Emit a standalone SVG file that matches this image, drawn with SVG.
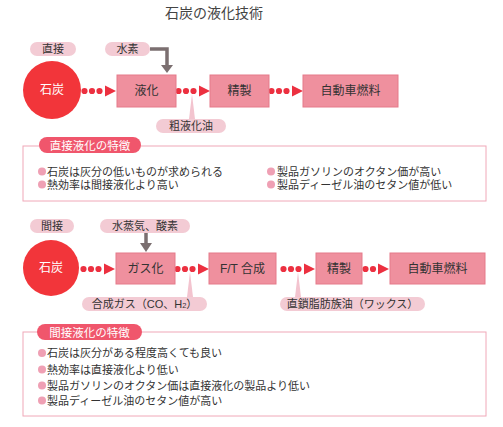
<svg xmlns="http://www.w3.org/2000/svg" xmlns:xlink="http://www.w3.org/1999/xlink" width="503" height="427" viewBox="0 0 503 427">
<style>
text{font-family:"Liberation Sans","Noto Sans CJK JP",sans-serif;fill:#333}
.title{font-size:14px;fill:#444}
.pill{fill:#f3cbd4}
.pt{font-size:11px;text-anchor:middle}
.box{fill:#ef909e;stroke:#e57a8a;stroke-width:1}
.bt{font-size:12px;text-anchor:middle}
.coal{fill:#f2353a}
.ct{font-size:12px;fill:#fff;text-anchor:middle}
.dot{fill:#ec3040}
.ptr{fill:#f3c4cf}
.gray{fill:none;stroke:#7b6f70;stroke-width:3.5}
.grayh{fill:#7b6f70}
.frame{fill:#fff;stroke:#f0a8b8;stroke-width:1}
.hp{fill:#f0566c}
.ht{font-size:11.5px;fill:#fff;text-anchor:middle}
.bul{fill:#efa0b4}
.lt{font-size:11px}
</style>
<defs>
<g id="d3"><circle class="dot" cx="2.5" cy="0" r="3.1"/><circle class="dot" cx="10" cy="0" r="3.1"/><circle class="dot" cx="17.5" cy="0" r="3.1"/><polygon class="dot" points="23,-5.5 34,0 23,5.5"/></g>
<g id="d2"><circle class="dot" cx="2.5" cy="0" r="3.1"/><circle class="dot" cx="10" cy="0" r="3.1"/><polygon class="dot" points="15,-5.5 26,0 15,5.5"/></g>
</defs>
<rect width="503" height="427" fill="#fff"/>
<text class="title" x="214" y="18" text-anchor="middle">石炭の液化技術</text>

<g id="connectors">
<use xlink:href="#d3" transform="translate(82,91)"/>
<use xlink:href="#d3" transform="translate(176,91)"/>
<use xlink:href="#d3" transform="translate(269,91)"/>
<polygon class="ptr" points="192,94 189,119 195,119"/>
<path class="gray" d="M150,49 H167 V66"/>
<polygon class="grayh" points="161,65 173,65 167,73"/>
<use xlink:href="#d3" transform="translate(81,269)"/>
<use xlink:href="#d3" transform="translate(175,269)"/>
<use xlink:href="#d3" transform="translate(281,269)"/>
<use xlink:href="#d2" transform="translate(363,269)"/>
<polygon class="ptr" points="190,272 187,297 193,297"/>
<polygon class="ptr" points="298,272 295,297 301,297"/>
<path class="gray" d="M146,233 V244"/>
<polygon class="grayh" points="140,243 152,243 146,252"/>
</g>

<g id="label-direct"><rect class="pill" x="30" y="42" width="46" height="14" rx="7"/><text class="pt" x="53" y="53">直接</text></g>
<g id="hydrogen"><rect class="pill" x="105" y="42" width="45" height="14" rx="7"/><text class="pt" x="127.5" y="53">水素</text></g>
<g id="coal1"><circle class="coal" cx="52" cy="90" r="29"/><text class="ct" x="52" y="94">石炭</text></g>
<g id="liquefaction"><rect class="box" x="117" y="75" width="59" height="32"/><text class="bt" x="146.5" y="95">液化</text></g>
<g id="refine1"><rect class="box" x="210" y="75" width="59" height="32"/><text class="bt" x="239.5" y="95">精製</text></g>
<g id="fuel1"><rect class="box" x="303" y="75" width="95" height="32"/><text class="bt" x="350.5" y="95">自動車燃料</text></g>
<g id="crude"><rect class="pill" x="156" y="119" width="70" height="14" rx="7"/><text class="pt" x="191" y="130">粗液化油</text></g>

<g id="features-direct">
<rect class="frame" x="23" y="146" width="463" height="55"/>
<rect class="hp" x="39" y="137" width="102" height="16" rx="8"/>
<text class="ht" x="90" y="149.5">直接液化の特徴</text>
<circle class="bul" cx="42" cy="171.5" r="4"/><text class="lt" x="47" y="175.5">石炭は灰分の低いものが求められる</text>
<circle class="bul" cx="42" cy="184.5" r="4"/><text class="lt" x="47" y="188.5">熱効率は間接液化より高い</text>
<circle class="bul" cx="271" cy="171.5" r="4"/><text class="lt" x="277" y="175.5">製品ガソリンのオクタン価が高い</text>
<circle class="bul" cx="271" cy="184.5" r="4"/><text class="lt" x="277" y="188.5">製品ディーゼル油のセタン値が低い</text>
</g>

<g id="label-indirect"><rect class="pill" x="30" y="219" width="44" height="14" rx="7"/><text class="pt" x="52" y="230">間接</text></g>
<g id="steam"><rect class="pill" x="100" y="219" width="90" height="14" rx="7"/><text class="pt" x="145" y="230">水蒸気、酸素</text></g>
<g id="coal2"><circle class="coal" cx="51" cy="268" r="28"/><text class="ct" x="51" y="272">石炭</text></g>
<g id="gasification"><rect class="box" x="116" y="253" width="59" height="31"/><text class="bt" x="145.5" y="273">ガス化</text></g>
<g id="ft"><rect class="box" x="209" y="253" width="67" height="31"/><text class="bt" x="242.5" y="273">F/T 合成</text></g>
<g id="refine2"><rect class="box" x="316" y="253" width="46" height="31"/><text class="bt" x="339" y="273">精製</text></g>
<g id="fuel2"><rect class="box" x="390" y="253" width="95" height="31"/><text class="bt" x="437.5" y="273">自動車燃料</text></g>
<g id="syngas"><rect class="pill" x="82" y="297" width="125" height="14" rx="7"/><text class="pt" x="144.5" y="308">合成ガス（CO、H<tspan font-size="7.5">2</tspan>）</text></g>
<g id="wax"><rect class="pill" x="280" y="297" width="145" height="14" rx="7"/><text class="pt" x="352.5" y="308">直鎖脂肪族油（ワックス）</text></g>

<g id="features-indirect">
<rect class="frame" x="23" y="332" width="463" height="84"/>
<rect class="hp" x="37" y="324" width="105" height="16" rx="8"/>
<text class="ht" x="89.5" y="336.5">間接液化の特徴</text>
<circle class="bul" cx="42" cy="353" r="4"/><text class="lt" x="47" y="357">石炭は灰分がある程度高くても良い</text>
<circle class="bul" cx="42" cy="369.5" r="4"/><text class="lt" x="47" y="373.5">熱効率は直接液化より低い</text>
<circle class="bul" cx="42" cy="385.5" r="4"/><text class="lt" x="47" y="389.5">製品ガソリンのオクタン価は直接液化の製品より低い</text>
<circle class="bul" cx="42" cy="400.5" r="4"/><text class="lt" x="47" y="404.5">製品ディーゼル油のセタン値が高い</text>
</g>
</svg>
